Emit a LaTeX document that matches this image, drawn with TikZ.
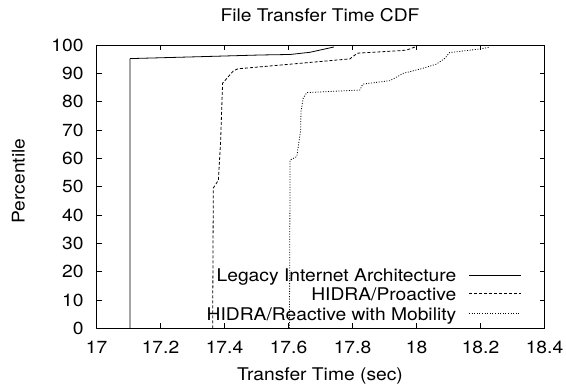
\documentclass[tikz,border=0pt]{standalone}
\usepackage{fontspec}
\setmainfont[FakeStretch=1.1]{TeX Gyre Heros}

\begin{document}
\begin{tikzpicture}[x=1pt,y=1pt,line width=0.8pt,line join=round,
  legacy/.style={black},
  proactive/.style={black,dash pattern=on 3pt off 2pt},
  reactive/.style={black,dash pattern=on 1pt off 1.6pt},
  lbl/.style={font=\fontsize{17.5}{20}\selectfont,inner sep=0pt}]
  \useasboundingbox (0,0) rectangle (566,390);
  \node[lbl] (title) at (320,375) {File Transfer Time CDF};
  \node[lbl,rotate=90] (ylab) at (18.3,209) {Percentile};
  \node[lbl] (xlab) at (320,14) {Transfer Time (sec)};
  % data frame: x in sec, y in percent
  \begin{scope}[x=320pt,y=2.833pt,shift={(-5343.5pt,61.7pt)}]
    \draw (17,0) rectangle (18.4,100);
    \foreach \t [count=\i] in {17,17.2,17.4,17.6,17.8,18,18.2,18.4} {
      \draw (\t,0) -- ++(0pt,5pt) (\t,100) -- ++(0pt,-5pt);
      \node[lbl] (xt\i) at ([yshift=-19.2pt]\t,0) {\t};
    }
    \foreach \p in {0,10,...,100} {
      \draw (17,\p) -- ++(5pt,0pt) (18.4,\p) -- ++(-5pt,0pt);
      \node[lbl,anchor=east] (yt\p) at ([xshift=-12.5pt]17,\p) {\p};
    }
    \draw[legacy] plot coordinates {(17.105,0) (17.105,95.2) (17.323,95.87)
      (17.511,96.47) (17.605,96.65) (17.667,97.42) (17.742,99.3)};
    \draw[proactive] plot coordinates {(17.363,0) (17.365,49.5) (17.381,52.3)
      (17.388,66.5) (17.394,86.5) (17.428,90.9) (17.442,91.6) (17.573,92.9)
      (17.792,95.1) (17.815,97.1) (17.948,98.0) (17.969,98.2) (17.998,99.4)};
    \draw[reactive] plot coordinates {(17.603,0) (17.605,59.4) (17.626,60.6)
      (17.638,70.0) (17.639,76.5) (17.646,81.2) (17.657,83.2) (17.823,84.1)
      (17.832,86.2) (17.917,87.4) (17.959,90.0) (18.021,91.8) (18.063,93.3)
      (18.089,95.3) (18.103,97.3) (18.198,98.6) (18.228,99.2)};
  \end{scope}
  % key
  \node[lbl,anchor=base east] (key1) at (456.7,108.3) {Legacy Internet Architecture};
  \node[lbl,anchor=base east] (key2) at (456.7,89.3) {HIDRA/Proactive};
  \node[lbl,anchor=base east] (key3) at (456.7,69.3) {HIDRA/Reactive with Mobility};
  \coordinate (k1a) at (469,115);   \coordinate (k1b) at (521,115);
  \coordinate (k2a) at (469,96.7);  \coordinate (k2b) at (521,96.7);
  \coordinate (k3a) at (469,76.7);  \coordinate (k3b) at (521,76.7);
  \draw[legacy] (k1a) -- (k1b);
  \draw[proactive] (k2a) -- (k2b);
  \draw[reactive] (k3a) -- (k3b);
\end{tikzpicture}
\end{document}
